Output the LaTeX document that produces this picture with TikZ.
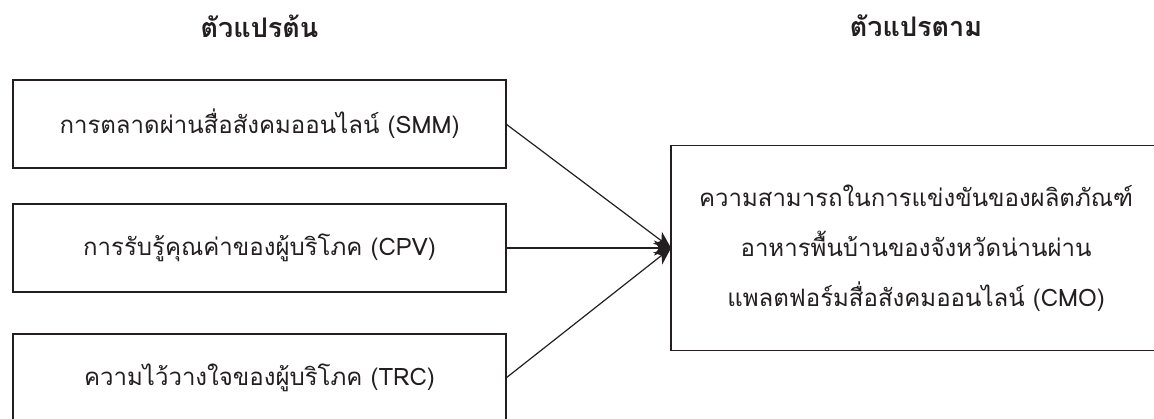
\documentclass[tikz,border=0pt]{standalone}
\usepackage{fontspec}
\newfontfamily\thaifont[Script=Thai]{Loma}
\usetikzlibrary{positioning,arrows.meta}
\definecolor{inkgray}{RGB}{35,31,32}

\begin{document}
\begin{tikzpicture}[
  x=0.5pt, y=-0.5pt,
  node distance=18pt and 82.5pt,
  every node/.style={font=\thaifont\fontsize{12}{25}\selectfont, text=inkgray},
  varbox/.style={rectangle, draw=inkgray, line width=0.75pt, outer sep=0pt,
                 minimum width=246.5pt, minimum height=44pt, align=center},
  mainbox/.style={rectangle, draw=inkgray, line width=0.75pt, outer sep=0pt,
                  minimum width=245pt, minimum height=102.5pt, align=center},
  head/.style={font=\thaifont\bfseries\fontsize{13.5}{16}\selectfont},
  link/.style={-{Stealth[length=8.5pt, width=7.5pt, inset=2.5pt]}, line width=0.6pt, draw=inkgray}
]
  \useasboundingbox (0,0) rectangle (1154,418);
  % independent variables
  \node[varbox] (smm) at (259.5,124) {การตลาดผ่านสื่อสังคมออนไลน์ (SMM)};
  \node[varbox, below=of smm] (cpv) {การรับรู้คุณค่าของผู้บริโภค (CPV)};
  \node[varbox, below=21pt of cpv] (trc) {ความไว้วางใจของผู้บริโภค (TRC)};
  % dependent variable
  \node[mainbox, right=of cpv] (cmo) {ความสามารถในการแข่งขันของผลิตภัณฑ์\\อาหารพื้นบ้านของจังหวัดน่านผ่าน\\แพลตฟอร์มสื่อสังคมออนไลน์ (CMO)};
  % headings
  \node[head] (indep) at (259.5,26) {ตัวแปรต้น};
  \node[head] (dep) at (cmo |- indep) {ตัวแปรตาม};

  \draw[link] (smm.east) -- (cmo.west);
  \draw[link] (cpv.east) -- (cmo.west);
  \draw[link] (trc.east) -- (cmo.west);
\end{tikzpicture}
\end{document}
